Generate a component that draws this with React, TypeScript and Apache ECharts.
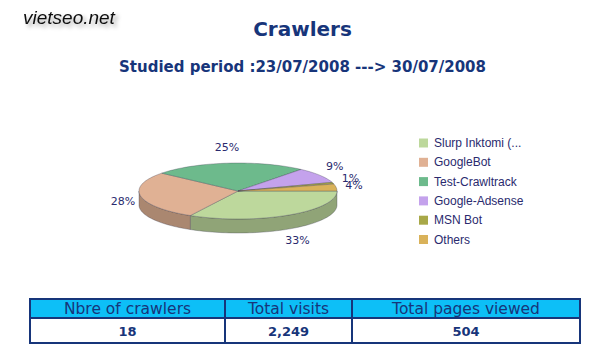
import React, { useEffect, useRef } from "react";
import * as echarts from "echarts";

const crawlers = ["Slurp Inktomi (...", "GoogleBot", "Test-Crawltrack", "Google-Adsense", "MSN Bot", "Others"];
const shares = [33, 28, 25, 9, 1, 4];
const colors = ["#bdd89c", "#e0b194", "#6dba8c", "#c4a2ec", "#a8a848", "#d9b25a"];
const tableHeaders = ["Nbre of crawlers", "Total visits", "Total pages viewed"];
const tableValues = ["18", "2,249", "504"];

const NAVY = "#17357a";
const CX = 238, CY = 191, RX = 99, RY = 28, D = 14;

function darken(hex: string, f: number): string {
  const n = parseInt(hex.slice(1), 16);
  const r = Math.round(((n >> 16) & 255) * f);
  const g = Math.round(((n >> 8) & 255) * f);
  const b = Math.round((n & 255) * f);
  return `rgb(${r},${g},${b})`;
}

function arcPts(a0: number, a1: number, dy = 0): number[][] {
  const n = Math.max(2, Math.ceil((a1 - a0) / (Math.PI / 90)));
  const pts: number[][] = [];
  for (let i = 0; i <= n; i++) {
    const t = a0 + ((a1 - a0) * i) / n;
    pts.push([CX + RX * Math.cos(t), CY + RY * Math.sin(t) + dy]);
  }
  return pts;
}

export default function App() {
  const ref = useRef<HTMLDivElement>(null);
  useEffect(() => {
    document.body.style.margin = "0";
    const chart = echarts.init(ref.current!, null, { renderer: "svg" });
    const total = shares.reduce((a, b) => a + b, 0);
    let cum = 0;
    const series = crawlers.map((name, i) => {
      const start = cum;
      cum += shares[i];
      return {
        type: "custom",
        name,
        coordinateSystem: "none",
        itemStyle: { color: colors[i] },
        data: [[start, shares[i]]],
        renderItem: (params: any, api: any) => {
          const s = api.value(0);
          const v = api.value(1);
          const a0 = (s / total) * Math.PI * 2;
          const a1 = ((s + v) / total) * Math.PI * 2;
          const color = colors[i];
          const side = darken(color, 0.76);
          const children: any[] = [];
          const f0 = Math.max(a0, 0);
          const f1 = Math.min(a1, Math.PI);
          if (f1 > f0) {
            const pts = arcPts(f0, f1).concat(arcPts(f0, f1, D).reverse());
            children.push({
              type: "polygon",
              shape: { points: pts },
              style: { fill: side, stroke: "rgba(60,60,80,0.55)", lineWidth: 0.6 },
              z2: 1,
            });
          }
          const top = [[CX, CY]].concat(arcPts(a0, a1));
          children.push({
            type: "polygon",
            shape: { points: top },
            style: { fill: color, stroke: "rgba(60,60,80,0.55)", lineWidth: 0.6 },
            z2: 10,
          });
          const mid = (a0 + a1) / 2;
          const sn = Math.sin(mid);
          children.push({
            type: "text",
            x: CX + (RX + 18) * Math.cos(mid),
            y: CY + (RY + 16) * sn + (sn > 0 ? D * sn : 0),
            style: {
              text: Math.round((v / total) * 100) + "%",
              fill: "#2a2a6e",
              font: "11px 'DejaVu Sans'",
              align: "center",
              verticalAlign: "middle",
            },
            z2: 20,
          });
          return { type: "group", children };
        },
      };
    });

    const cols = [30, 225, 352, 580];
    const yTop = 299, yMid = 318, yBot = 343;
    const tableEls: any[] = [];
    tableEls.push({ type: "rect", shape: { x: cols[0], y: yTop, width: cols[3] - cols[0], height: yMid - yTop }, style: { fill: "#0dbff7" } });
    tableEls.push({ type: "rect", shape: { x: cols[0], y: yMid, width: cols[3] - cols[0], height: yBot - yMid }, style: { fill: "#ffffff" } });
    tableEls.push({ type: "rect", shape: { x: cols[0], y: yTop, width: cols[3] - cols[0], height: yBot - yTop }, style: { fill: "none", stroke: NAVY, lineWidth: 2 } });
    tableEls.push({ type: "line", shape: { x1: cols[0], y1: yMid, x2: cols[3], y2: yMid }, style: { stroke: NAVY, lineWidth: 2 } });
    for (let c = 1; c < 3; c++) {
      tableEls.push({ type: "line", shape: { x1: cols[c], y1: yTop, x2: cols[c], y2: yBot }, style: { stroke: NAVY, lineWidth: 2 } });
    }
    tableHeaders.forEach((h, c) => {
      tableEls.push({
        type: "text", x: (cols[c] + cols[c + 1]) / 2, y: (yTop + yMid) / 2 + 0.5,
        style: { text: h, fill: NAVY, font: "15.5px 'DejaVu Sans'", align: "center", verticalAlign: "middle" },
      });
      tableEls.push({
        type: "text", x: (cols[c] + cols[c + 1]) / 2, y: (yMid + yBot) / 2 + 0.5,
        style: { text: tableValues[c], fill: NAVY, font: "bold 13px 'DejaVu Sans'", align: "center", verticalAlign: "middle" },
      });
    });

    chart.setOption({
      animation: false,
      backgroundColor: "#ffffff",
      title: [
        { text: "Crawlers", left: "center", top: 14, textStyle: { fontSize: 20, fontWeight: "bold", color: NAVY, fontFamily: "DejaVu Sans" } },
        { text: "Studied period :23/07/2008 ---> 30/07/2008", left: "center", top: 54, textStyle: { fontSize: 15, fontWeight: "bold", color: NAVY, fontFamily: "DejaVu Sans" } },
      ],
      legend: {
        data: crawlers,
        orient: "vertical",
        left: 414,
        top: 132,
        icon: "rect",
        itemWidth: 9,
        itemHeight: 9,
        itemGap: 7.3,
        selectedMode: false,
        textStyle: { color: "#2a2a6e", fontSize: 12, fontFamily: "Liberation Sans", padding: [0, 0, 0, 1] },
      },
      graphic: [
        {
          type: "text", left: 23, top: 8,
          style: {
            text: "vietseo.net", fill: "#111111", font: "italic 19px 'Liberation Sans'",
            textShadowColor: "rgba(0,0,0,0.35)", textShadowBlur: 4, textShadowOffsetX: 3, textShadowOffsetY: 3,
          },
        },
        ...tableEls,
      ],
      series,
    });
    return () => chart.dispose();
  }, []);
  return <div ref={ref} style={{ position: "absolute", left: 0, top: 0, width: 605, height: 354 }} />;
}
